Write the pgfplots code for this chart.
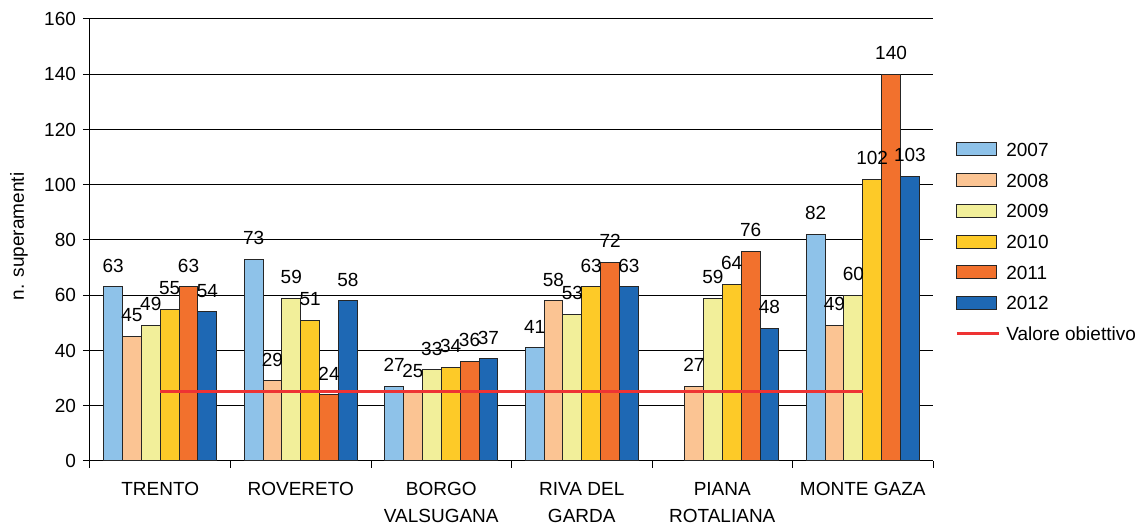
\documentclass[border=0pt]{standalone}
\usepackage{fontspec}
\setmainfont{Liberation Sans}
\usepackage{pgfplots}
\pgfplotsset{compat=1.18}
\definecolor{c07}{HTML}{8EC2E9}
\definecolor{c08}{HTML}{FBC493}
\definecolor{c09}{HTML}{F2EF9A}
\definecolor{c10}{HTML}{FDCA28}
\definecolor{c11}{HTML}{F2712D}
\definecolor{c12}{HTML}{1E68B4}
\definecolor{cred}{HTML}{EE3333}
\pgfplotsset{
  barleg/.style={legend image code/.code={\draw[##1, line width=0.5pt] (0pt,-3.25pt) rectangle (20pt,3.25pt);}},
  lineleg/.style={legend image code/.code={\draw[##1] (0pt,0pt) -- (21pt,0pt);}},
  mybar/.style={ybar, bar width=9.435pt, bar shift=#1, draw=black!85, line width=0.5pt,
    nodes near coords,
    nodes near coords style={font=\fontsize{9.5}{11}\selectfont, text=black, anchor=south, inner sep=0pt, yshift=7pt, xshift=#1},
    barleg},
}
\begin{document}
\begin{tikzpicture}
\begin{axis}[
  scale only axis, width=421.5pt, height=221pt,
  /pgf/number format/assume math mode=true,
  font=\fontsize{9.5}{11}\selectfont,
  ymin=0, ymax=160, ytick={0,20,...,160},
  xmin=-0.5, xmax=5.5,
  xtick={-0.5,0.5,...,5.5},
  x tick label as interval,
  xticklabels={TRENTO, ROVERETO, BORGO\\VALSUGANA, RIVA DEL\\GARDA, PIANA\\ROTALIANA, MONTE GAZA},
  xticklabel style={align=center, font=\fontsize{9.5}{13.5}\selectfont, yshift=-3.5pt},
  axis x line*=bottom, axis y line*=left,
  axis line style={black, line width=0.5pt},
  tick align=outside, major tick length=3.5pt,
  tick style={black, line width=0.5pt},
  ymajorgrids, grid style={black, line width=0.5pt},
  ylabel={n. superamenti},
  ylabel style={at={(axis description cs:-0.0842,0.508)}, anchor=center},
  legend style={at={(1.026,0.7217)}, anchor=north west, draw=none, fill=none, inner sep=0pt,
    row sep=8.35pt, nodes={inner xsep=3pt, inner ysep=0pt, text height=6.9pt, text depth=0pt, font=\fontsize{9.5}{11}\selectfont}},
  legend cell align=left,
]
\addplot[mybar=-23.59pt, fill=c07] coordinates {(0,63) (1,73) (2,27) (3,41) (5,82)};
\addplot[mybar=-14.155pt, fill=c08] coordinates {(0,45) (1,29) (2,25) (3,58) (4,27) (5,49)};
\addplot[mybar=-4.72pt, fill=c09] coordinates {(0,49) (1,59) (2,33) (3,53) (4,59) (5,60)};
\addplot[mybar=4.72pt, fill=c10] coordinates {(0,55) (1,51) (2,34) (3,63) (4,64) (5,102)};
\addplot[mybar=14.155pt, fill=c11] coordinates {(0,63) (1,24) (2,36) (3,72) (4,76) (5,140)};
\addplot[mybar=23.59pt, fill=c12] coordinates {(0,54) (1,58) (2,37) (3,63) (4,48) (5,103)};
\addplot[cred, line width=1.5pt, sharp plot, mark=none, lineleg] coordinates {(0,25) (5,25)};
\legend{2007,2008,2009,2010,2011,2012,Valore obiettivo}
\coordinate (pSW) at (rel axis cs:0,0);
\coordinate (pNE) at (rel axis cs:1,1);
\end{axis}
\pgfresetboundingbox
\path ([shift={(-45pt,-33pt)}]pSW) rectangle ([shift={(102.5pt,9.5pt)}]pNE);
\end{tikzpicture}
\end{document}
